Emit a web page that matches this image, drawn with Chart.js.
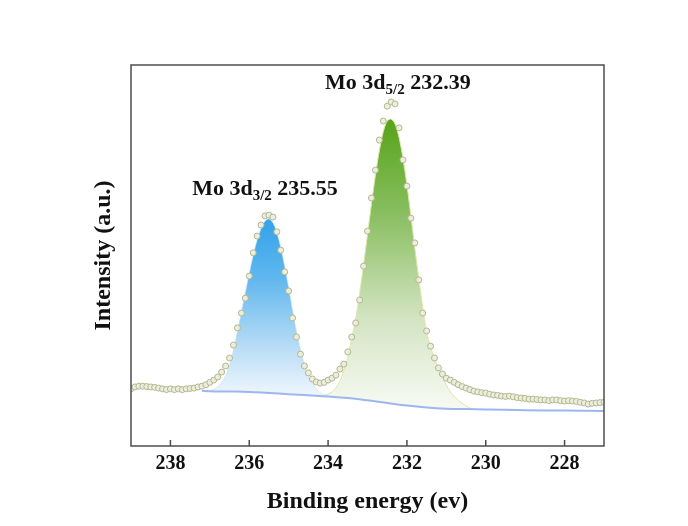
<!DOCTYPE html>
<html>
<head>
<meta charset="utf-8">
<script src="https://cdn.jsdelivr.net/npm/chart.js@4/dist/chart.umd.min.js"></script>
<style>
  html, body { margin: 0; padding: 0; background: #fff; }
</style>
</head>
<body>
<canvas id="xps" width="688" height="526"></canvas>
<script>
// measured spectrum, 0.1 eV steps from 239 eV down to 227 eV
const energyStart = 239;
const energyStep = 0.1;
const intensity = [
    15.0, 15.5, 15.7, 15.7, 15.6, 15.5, 15.4, 15.2, 15.0, 14.8,
    15.0, 14.8, 15.0, 14.8, 15.0, 15.1, 15.2, 15.5, 15.7, 16.1,
    16.7, 17.3, 18.1, 19.4, 21.0, 23.1, 26.5, 31.0, 34.9, 38.8,
    44.6, 50.7, 55.1, 58.0, 60.4, 60.6, 60.1, 56.2, 51.4, 45.7,
    40.7, 33.6, 28.6, 24.1, 21.0, 19.2, 17.6, 16.8, 16.5, 16.7,
    17.3, 17.8, 18.6, 20.2, 21.5, 24.7, 28.6, 32.3, 38.3, 47.2,
    56.4, 65.1, 72.4, 80.3, 85.3, 89.2, 90.3, 89.8, 83.5, 75.1,
    68.2, 59.8, 53.3, 43.6, 34.9, 30.2, 26.2, 23.1, 20.5, 18.9,
    17.8, 17.3, 16.7, 16.1, 15.6, 15.2, 14.8, 14.4, 14.2, 14.0,
    13.9, 13.6, 13.4, 13.3, 13.1, 13.0, 13.1, 12.9, 12.7, 12.6,
    12.5, 12.3, 12.3, 12.2, 12.1, 12.1, 11.9, 12.1, 12.1, 11.9,
    11.8, 11.9, 11.8, 11.7, 11.5, 11.3, 11.0, 11.2, 11.3, 11.4,
    11.5
];

// Shirley-type background
const backgroundE = [237.2, 237.0, 236.5, 236.0, 235.5, 235.0, 234.5, 234.0, 233.5, 233.0,
    232.5, 232.0, 231.5, 231.0, 230.5, 230.0, 229.0, 228.0, 227.0];
const backgroundI = [14.5, 14.4, 14.3, 14.2, 13.9, 13.6, 13.3, 13.0, 12.6, 12.0,
    11.3, 10.6, 10.1, 9.8, 9.7, 9.6, 9.4, 9.3, 9.2];

// fitted components (background included), 0.1 eV steps
const fit32Start = 237.2;
const fit32 = [
    14.5, 14.5, 14.6, 14.9, 15.5, 16.6, 18.4, 21.2, 25.2, 30.0,
    35.0, 40.2, 45.2, 50.0, 54.0, 57.0, 59.0, 59.6, 58.6, 56.0,
    52.0, 47.0, 41.5, 35.5, 30.0, 25.3, 21.4, 18.5, 16.5, 15.0,
    14.0, 13.4, 13.1, 12.9
];
const fit52Start = 234.2;
const fit52 = [
    13.1, 13.3, 13.6, 14.2, 15.3, 17.0, 19.8, 23.5, 28.3, 33.5,
    40.0, 47.5, 55.5, 63.5, 71.0, 77.5, 82.5, 85.3, 85.8, 84.5,
    81.0, 75.5, 68.5, 60.5, 52.0, 44.0, 36.5, 30.0, 26.0, 23.0,
    20.5, 18.0, 16.0, 14.3, 13.0, 12.0, 11.2, 10.5, 9.9
];

const tickValues = [238, 236, 234, 232, 230, 228];

const peakLabels = [
    {sub: '3/2', value: '235.55', x: 235.6, y: 65.9},
    {sub: '5/2', value: '232.39', x: 232.23, y: 93.7},
];

const serif = '"Liberation Serif", "Times New Roman", serif';

function seriesPoints(start, values) {
    return values.map((v, i) => ({x: +(start - i * energyStep).toFixed(2), y: v}));
}

function gradientFill(stops, topValue, bottomValue) {
    return (context) => {
        const chart = context.chart;
        if (!chart.chartArea) return null;
        const y = chart.scales.y;
        const g = chart.ctx.createLinearGradient(0, y.getPixelForValue(topValue), 0, y.getPixelForValue(bottomValue));
        stops.forEach(([pos, col]) => g.addColorStop(pos, col));
        return g;
    };
}

const frame = {
    id: 'frame',
    afterDraw(chart) {
        const {ctx, chartArea: a, scales} = chart;
        ctx.save();
        ctx.strokeStyle = '#4d4d4d';
        ctx.lineWidth = 1.5;
        ctx.strokeRect(a.left, a.top, a.right - a.left, a.bottom - a.top);
        ctx.beginPath();
        tickValues.forEach(t => {
            const px = scales.x.getPixelForValue(t);
            ctx.moveTo(px, a.bottom);
            ctx.lineTo(px, a.bottom - 6);
        });
        ctx.stroke();

        // peak labels
        ctx.fillStyle = '#111';
        ctx.textBaseline = 'alphabetic';
        peakLabels.forEach(l => {
            const big = 'bold 22px ' + serif;
            const small = 'bold 15px ' + serif;
            ctx.font = big;
            const w1 = ctx.measureText('Mo 3d').width;
            const w3 = ctx.measureText(' ' + l.value).width;
            ctx.font = small;
            const w2 = ctx.measureText(l.sub).width;
            let x = scales.x.getPixelForValue(l.x) - (w1 + w2 + w3) / 2;
            const y = scales.y.getPixelForValue(l.y);
            ctx.font = big;
            ctx.fillText('Mo 3d', x, y);
            x += w1;
            ctx.font = small;
            ctx.fillText(l.sub, x, y + 5);
            x += w2;
            ctx.font = big;
            ctx.fillText(' ' + l.value, x, y);
        });
        ctx.restore();
    }
};

new Chart('xps', {
    type: 'scatter',
    data: {
        datasets: [
            {
                label: 'Raw',
                data: seriesPoints(energyStart, intensity),
                showLine: false,
                pointRadius: 3,
                pointBackgroundColor: '#eceedd',
                pointBorderColor: '#b3b78f',
                pointBorderWidth: 1,
            },
            {
                label: 'Background',
                data: backgroundE.map((e, i) => ({x: e, y: backgroundI[i]})),
                showLine: true,
                pointRadius: 0,
                borderColor: '#9db6f0',
                borderWidth: 2,
                tension: 0.4,
            },
            {
                label: 'Mo 3d3/2',
                data: seriesPoints(fit32Start, fit32),
                showLine: true,
                pointRadius: 0,
                borderColor: 'rgba(190, 220, 240, 0.6)',
                borderWidth: 1,
                tension: 0.3,
                fill: {target: 1},
                backgroundColor: gradientFill([
                    [0, '#30a2ea'], [0.35, '#62b8ee'], [0.7, '#b3daf5'], [1, '#f0f7fd']
                ], 60, 13),
            },
            {
                label: 'Mo 3d5/2',
                data: seriesPoints(fit52Start, fit52),
                showLine: true,
                pointRadius: 0,
                borderColor: '#dfe6a8',
                borderWidth: 1,
                tension: 0.3,
                fill: {target: 1},
                backgroundColor: gradientFill([
                    [0, '#56a31a'], [0.35, '#8cc064'], [0.7, '#d3e4c2'], [1, '#f6f9f1']
                ], 86, 11),
            },
        ]
    },
    options: {
        responsive: false,
        animation: false,
        layout: {padding: {left: 85, top: 65, right: 84, bottom: 6}},
        plugins: {legend: {display: false}, tooltip: {enabled: false}},
        scales: {
            x: {
                type: 'linear',
                reverse: true,
                min: 227,
                max: 239,
                afterBuildTicks: (scale) => { scale.ticks = tickValues.map(v => ({value: v})); },
                afterFit: (scale) => { scale.height = 74; },
                grid: {display: false, drawTicks: false},
                border: {display: false},
                ticks: {
                    padding: 6,
                    color: '#111',
                    font: {family: serif, size: 20, weight: 'bold'},
                },
                title: {
                    display: true,
                    text: 'Binding energy (ev)',
                    color: '#111',
                    padding: {top: 4, bottom: 4},
                    font: {family: serif, size: 24, weight: 'bold'},
                },
            },
            y: {
                min: 0,
                max: 100,
                afterFit: (scale) => { scale.width = 46; },
                grid: {display: false, drawTicks: false},
                border: {display: false},
                ticks: {display: false},
                title: {
                    display: true,
                    text: 'Intensity (a.u.)',
                    color: '#111',
                    padding: {top: 4, bottom: 4},
                    font: {family: serif, size: 24, weight: 'bold'},
                },
            },
        },
    },
    plugins: [frame],
});
</script>
</body>
</html>
